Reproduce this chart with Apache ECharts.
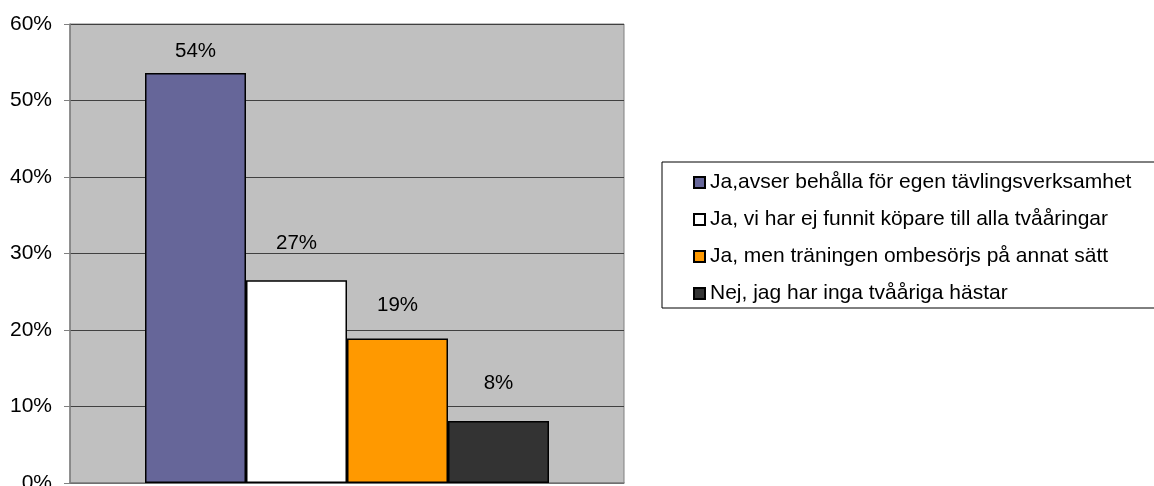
<!DOCTYPE html>
<html>
<head>
<meta charset="utf-8">
<script src="https://cdn.jsdelivr.net/npm/echarts@6/dist/echarts.min.js"></script>
<style>
html,body{margin:0;padding:0;background:#fff;}
#c{width:1154px;height:486px;}
</style>
</head>
<body>
<div id="c"></div>
<script>
const categories = [''];
const seriesNames = [
  'Ja,avser behålla för egen tävlingsverksamhet',
  'Ja, vi har ej funnit köpare till alla tvååringar',
  'Ja, men träningen ombesörjs på annat sätt',
  'Nej, jag har inga tvååriga hästar'
];
const seriesValues = [53.6, 26.5, 18.9, 8.1];
const seriesColors = ['#666699', '#FFFFFF', '#FF9900', '#333333'];
const labelDistances = [11, 26, 23, 27];
const yTicks = [0, 10, 20, 30, 40, 50, 60];

const FONT = 'Liberation Sans';
const chart = echarts.init(document.getElementById('c'));
const series = seriesNames.map((name, i) => ({
  name: name,
  type: 'bar',
  data: [seriesValues[i]],
  barWidth: 101,
  barGap: '0%',
  itemStyle: { color: seriesColors[i], borderColor: '#000', borderWidth: 1.5 },
  label: {
    show: true, position: 'top', distance: labelDistances[i],
    formatter: p => Math.round(p.value) + '%',
    color: '#000', fontFamily: FONT, fontSize: 20.5
  }
}));

chart.setOption({
  animation: false,
  backgroundColor: '#fff',
  grid: {
    left: 70, right: 530, top: 24, bottom: 3,
    outerBoundsMode: 'none', containLabel: false,
    show: true, backgroundColor: '#C0C0C0', borderColor: '#808080', borderWidth: 1
  },
  legend: {
    orient: 'vertical', left: 662, top: 162,
    padding: [10, 140, 4, 31],
    itemGap: 16,
    itemWidth: 11, itemHeight: 11, icon: 'rect',
    borderColor: '#000', borderWidth: 1,
    textStyle: { fontFamily: FONT, fontSize: 21, color: '#000' },
    data: seriesNames
  },
  xAxis: {
    type: 'category', data: categories,
    axisLine: { show: true, lineStyle: { color: '#808080', width: 1.5 } },
    axisTick: { show: false }, axisLabel: { show: false }
  },
  yAxis: {
    type: 'value', min: yTicks[0], max: yTicks[yTicks.length - 1], interval: 10,
    axisLine: { show: true, lineStyle: { color: '#808080', width: 1.5 } },
    axisTick: { show: true, inside: false, length: 6, lineStyle: { color: '#808080' } },
    axisLabel: { formatter: v => v + '%', fontFamily: FONT, fontSize: 21, color: '#000', margin: 18 },
    splitLine: { show: true, lineStyle: { color: '#404040', width: 1 } }
  },
  series: series
});
</script>
</body>
</html>
